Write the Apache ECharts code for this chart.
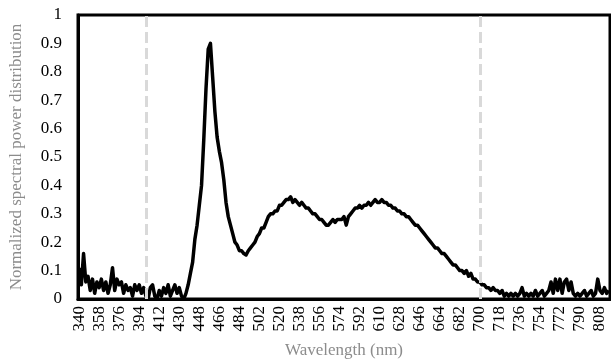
<!DOCTYPE html>
<html>
<head>
<meta charset="utf-8">
<script src="https://cdn.jsdelivr.net/npm/echarts@6/dist/echarts.min.js"></script>
<style>
html,body{margin:0;padding:0;background:#fff;}
#chart{width:611px;height:364px;}
</style>
</head>
<body>
<div id="chart"></div>
<script>
// Wavelength grid (nm), 2 nm step from 340 to 816
const startNm = 340;
const stepNm = 2;
const spd = [
  0.11,0.05,0.16,0.06,0.08,0.03,0.07,0.02,0.06,0.04,
  0.07,0.03,0.06,0.02,0.05,0.11,0.03,0.07,0.05,0.06,
  0.02,0.05,0.03,0.04,0.01,0.05,0.03,0.05,0.02,0.04,
  0.01,0.00,0.04,0.05,0.01,0.00,0.03,0.01,0.04,0.02,
  0.05,0.01,0.03,0.05,0.02,0.04,0.01,0.00,0.02,0.05,
  0.09,0.13,0.21,0.26,0.33,0.40,0.56,0.74,0.88,0.90,
  0.78,0.66,0.57,0.52,0.48,0.42,0.34,0.29,0.26,0.23,
  0.20,0.19,0.17,0.17,0.16,0.155,0.17,0.18,0.19,0.20,
  0.22,0.23,0.25,0.25,0.27,0.29,0.30,0.30,0.31,0.31,
  0.33,0.33,0.34,0.35,0.35,0.36,0.34,0.35,0.34,0.33,
  0.34,0.33,0.32,0.32,0.31,0.30,0.30,0.29,0.28,0.28,
  0.27,0.26,0.26,0.27,0.28,0.27,0.28,0.28,0.28,0.29,
  0.26,0.29,0.30,0.31,0.32,0.32,0.33,0.32,0.33,0.33,
  0.34,0.33,0.34,0.35,0.34,0.34,0.35,0.34,0.34,0.33,
  0.33,0.32,0.32,0.31,0.31,0.30,0.30,0.29,0.29,0.28,
  0.27,0.26,0.26,0.25,0.24,0.23,0.22,0.21,0.20,0.19,
  0.18,0.18,0.17,0.16,0.16,0.15,0.14,0.13,0.12,0.12,
  0.11,0.10,0.10,0.09,0.10,0.08,0.09,0.07,0.07,0.06,
  0.06,0.05,0.05,0.04,0.04,0.03,0.04,0.03,0.03,0.02,
  0.03,0.01,0.02,0.01,0.02,0.01,0.02,0.01,0.02,0.04,
  0.01,0.02,0.01,0.02,0.01,0.03,0.01,0.02,0.03,0.01,
  0.02,0.03,0.06,0.02,0.07,0.03,0.07,0.02,0.06,0.07,
  0.03,0.06,0.02,0.01,0.02,0.01,0.02,0.03,0.01,0.02,
  0.03,0.01,0.02,0.07,0.03,0.02,0.04,0.02,0.03
];
const wavelengths = spd.map((_, i) => String(startNm + stepNm * i));
const markerLines = ['400', '700'];
const yTicks = { min: 0, max: 1, interval: 0.1 };

const chart = echarts.init(document.getElementById('chart'), null, { renderer: 'canvas' });
const font = 'Liberation Serif, Times New Roman, serif';
chart.setOption({
  animation: false,
  backgroundColor: '#fff',
  grid: { left: 73, right: 1, top: 15, bottom: 59, show: true, borderColor: '#000', borderWidth: 3, containLabel: false },
  xAxis: {
    type: 'category',
    data: wavelengths,
    boundaryGap: true,
    name: 'Wavelength (nm)',
    nameLocation: 'middle',
    nameGap: 43,
    nameTextStyle: { fontFamily: font, fontSize: 17, color: '#8c8c8c' },
    axisLine: { show: true, lineStyle: { color: '#000', width: 3 } },
    axisTick: { show: false },
    axisLabel: { interval: 8, rotate: 90, margin: 7, fontFamily: font, fontSize: 17, color: '#000' },
    splitLine: { show: false }
  },
  yAxis: {
    type: 'value',
    min: yTicks.min, max: yTicks.max, interval: yTicks.interval,
    name: 'Normalized spectral power distribution',
    nameLocation: 'middle',
    nameGap: 53,
    nameTextStyle: { fontFamily: font, fontSize: 17, color: '#8c8c8c' },
    axisLine: { show: true, lineStyle: { color: '#000', width: 3 } },
    axisTick: { show: false },
    axisLabel: { margin: 16, fontFamily: font, fontSize: 17, color: '#000',
      formatter: v => (Math.abs(v) < 1e-9 ? '0' : Math.abs(v - 1) < 1e-9 ? '1' : v.toFixed(1)) },
    splitLine: { show: false }
  },
  series: [
    {
      type: 'line', data: [], z: 1, silent: true,
      markLine: {
        silent: true, symbol: 'none', label: { show: false },
        lineStyle: { color: '#d9d9d9', type: [11, 5], width: 3 },
        data: markerLines.map(w => ({ xAxis: w }))
      }
    },
    {
      type: 'line', data: spd, z: 3, showSymbol: false, symbol: 'none',
      lineStyle: { color: '#000', width: 3.5, join: 'round' }, smooth: false
    }
  ]
});
</script>
</body>
</html>
